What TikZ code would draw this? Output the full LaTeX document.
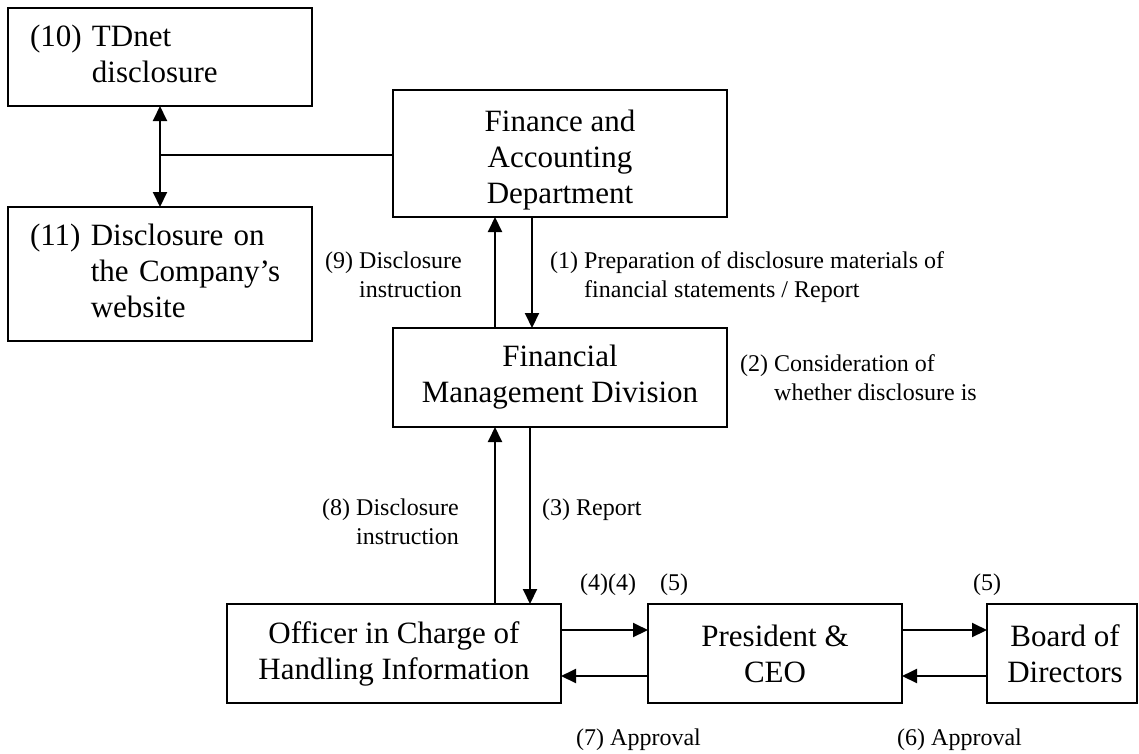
\documentclass[tikz,border=0pt]{standalone}
\usepackage{fontspec}
\setmainfont{Liberation Serif}
\usetikzlibrary{arrows.meta}
\begin{document}
\begin{tikzpicture}[x=1pt,y=-1pt,
  box/.style={draw, line width=2.2pt, inner sep=0pt, outer sep=0pt,
    font=\fontsize{31}{36}\selectfont, align=center},
  lbox/.style={box, align=left, inner xsep=22pt, inner ysep=0pt},
  lbl/.style={inner sep=0pt, anchor=base west, font=\fontsize{24}{29}\selectfont},
  arr/.style={line width=2pt, -{Triangle[length=15pt,width=14pt]}},
  darr/.style={line width=2pt, {Triangle[length=15pt,width=14pt]}-{Triangle[length=15pt,width=14pt]}},
  conn/.style={line width=2pt}]
\useasboundingbox (0,0) rectangle (1139,753);
\fill[white] (0,0) rectangle (1139,753);

% boxes
\node[lbox, text width=260pt, minimum height=98pt] (tdnet) at (160,57)
  {\begin{tabular}{@{}l@{ }l@{}}(10)&TDnet\\&disclosure\end{tabular}};
\node[lbox, text width=260pt, minimum height=134pt] (web) at (160,274)
  {\rule{0pt}{6pt}\\[-6pt]\begin{tabular}{@{}l@{ }l@{}}(11)&Disclosure on\\&the Company’s\\&website\end{tabular}};
\node[box, minimum width=334pt, minimum height=127pt] (fa) at (560,153.5)
  {\rule{0pt}{35pt}Finance and\\Accounting\\Department};
\node[box, minimum width=334pt, minimum height=99pt] (fmd) at (560,377.5)
  {Financial\\Management Division};
\node[box, minimum width=334pt, minimum height=99pt] (off) at (394,653.5)
  {Officer in Charge of\\Handling Information};
\node[box, minimum width=254pt, minimum height=99pt] (pres) at (775,653.5)
  {President \&\\CEO};
\node[box, minimum width=150pt, minimum height=99pt] (board) at (1062,653.5)
  {\hspace*{6pt}Board of\\\hspace*{6pt}Directors};

% helper coordinates
\coordinate (xL) at (160,0);
\coordinate (j) at (160,155);
\coordinate (xup) at (495,0);
\coordinate (xdn1) at (532,0);
\coordinate (xdn3) at (530,0);
\coordinate (yhi) at (0,630);
\coordinate (ylo) at (0,676);

% connectors
\draw[darr] (xL |- tdnet.south) -- (xL |- web.north);
\draw[conn] (j) -- (fa.west |- j);
\draw[arr] (xup |- fmd.north) -- (xup |- fa.south);
\draw[arr] (xdn1 |- fa.south) -- (xdn1 |- fmd.north);
\draw[arr] (xup |- off.north) -- (xup |- fmd.south);
\draw[arr] (xdn3 |- fmd.south) -- (xdn3 |- off.north);
\draw[arr] (off.east |- yhi) -- (pres.west |- yhi);
\draw[arr] (pres.west |- ylo) -- (off.east |- ylo);
\draw[arr] (pres.east |- yhi) -- (board.west |- yhi);
\draw[arr] (board.west |- ylo) -- (pres.east |- ylo);

% labels
\node[lbl] (l9) at (325,268)
  {\begin{tabular}[t]{@{}l@{ }l@{}}(9)&Disclosure\\&instruction\end{tabular}};
\node[lbl] (l1) at (550,268)
  {\begin{tabular}[t]{@{}l@{ }l@{}}(1)&Preparation of disclosure materials of\\&financial statements / Report\end{tabular}};
\node[lbl] (l2) at (740,371)
  {\begin{tabular}[t]{@{}l@{ }l@{}}(2)&Consideration of\\&whether disclosure is\end{tabular}};
\node[lbl] (l8) at (322,515)
  {\begin{tabular}[t]{@{}l@{ }l@{}}(8)&Disclosure\\&instruction\end{tabular}};
\node[lbl] (l3) at (542,515) {(3) Report};
\node[lbl] (l44) at (580,590) {(4)(4)};
\node[lbl] (l5a) at (660,590) {(5)};
\node[lbl] (l5b) at (973,590) {(5)};
\node[lbl] (l7) at (576,745) {(7) Approval};
\node[lbl] (l6) at (897,745) {(6) Approval};
\end{tikzpicture}
\end{document}
